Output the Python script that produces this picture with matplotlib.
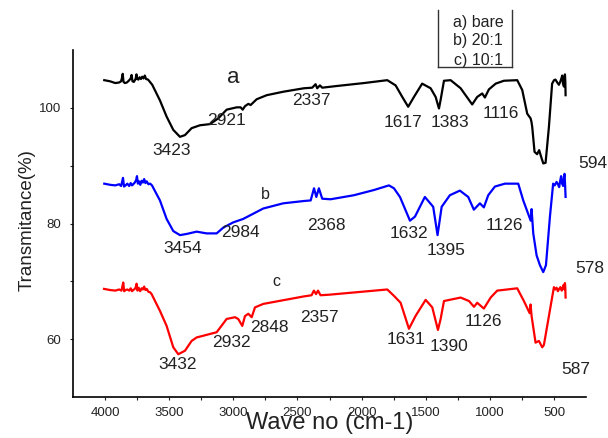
import numpy as np
import matplotlib
matplotlib.use("Agg")
import matplotlib.pyplot as plt
from matplotlib.lines import Line2D

plt.rcParams['font.family'] = ['Liberation Sans', 'DejaVu Sans']

# spectrum a) bare (wavenumber, transmittance)
wn_a = [4006, 3960, 3920, 3890, 3875, 3868, 3862, 3856, 3845, 3830,
        3815, 3800, 3793, 3786, 3775, 3762, 3755, 3748, 3740, 3730,
        3720, 3710, 3700, 3690, 3680, 3665, 3650, 3632,
        3572, 3520, 3468, 3416, 3377, 3325, 3260, 3182, 3117, 3052,
        2974, 2943, 2927, 2909, 2883, 2865, 2818, 2740, 2611, 2450,
        2385, 2359, 2346, 2325, 2307, 2190, 1982, 1800, 1735, 1683,
        1637, 1592, 1528, 1462, 1423, 1397, 1384, 1358, 1306, 1228,
        1138, 1099, 1060, 1039, 1008, 955, 891, 787, 748, 709,
        683, 676, 670, 652, 632, 616, 600, 584, 566, 540, 515,
        500, 489, 475, 462, 450, 440, 436, 430, 423, 418, 415, 412, 410]
tr_a = [104.8, 104.6, 104.3, 104.4, 104.6, 105.2, 105.9, 104.5, 104.3, 104.4,
        104.7, 105.1, 105.7, 104.6, 104.5, 105.0, 105.8, 105.0, 104.9, 105.3,
        105.0, 105.4, 105.1, 105.6, 105.0, 104.9, 104.5, 104.0,
        101.3, 98.5, 96.2, 95.0, 95.3, 96.5, 97.0, 97.2, 98.2, 99.7,
        100.1, 100.1, 99.7, 100.3, 100.7, 100.5, 101.5, 102.2, 102.8, 103.4,
        103.5, 104.1, 103.4, 103.9, 103.5, 103.8, 104.3, 104.8, 103.9, 101.9,
        100.2, 101.9, 104.2, 103.4, 101.9, 99.9, 101.4, 104.7, 104.8, 103.4,
        100.6, 101.9, 102.5, 101.8, 103.2, 104.2, 104.7, 104.8, 103.1, 99.0,
        98.2, 97.6, 96.7, 92.4, 92.0, 92.7, 91.5, 90.4, 90.5, 96.7, 104.2,
        104.8, 104.9, 104.4, 104.0, 104.6, 105.3, 105.6, 104.2, 103.7, 105.0, 105.8, 104.5, 102.2]

# spectrum b) 20:1
wn_b = [4006, 3960, 3920, 3890, 3875, 3866, 3860, 3852, 3840, 3826,
        3812, 3800, 3790, 3780, 3768, 3758, 3751, 3744, 3735, 3725,
        3715, 3705, 3695, 3685, 3675, 3662, 3648, 3634,
        3572, 3520, 3468, 3416, 3364, 3286, 3208, 3130, 3078, 3001,
        2923, 2767, 2611, 2450, 2397, 2371, 2353, 2333, 2307, 2242,
        2060, 1904, 1787, 1748, 1701, 1623, 1584, 1507, 1442, 1408,
        1376, 1312, 1234, 1169, 1125, 1078, 1047, 1013, 961, 883,
        779, 740, 682, 675, 662, 636, 610, 584, 563, 532,
        507, 495, 480, 470, 460, 452, 445, 437, 429, 423, 418, 414, 410]
tr_b = [86.9, 86.7, 86.6, 86.8, 86.5, 87.3, 87.9, 86.4, 86.6, 86.9,
        86.5, 87.0, 86.6, 86.8, 87.1, 87.5, 88.2, 86.9, 87.3, 86.7,
        87.4, 87.1, 87.7, 87.0, 87.3, 86.8, 86.9, 86.6,
        84.0, 80.8, 78.7, 78.0, 78.2, 78.6, 78.3, 78.3, 79.3, 80.2,
        80.8, 82.6, 83.5, 83.9, 84.0, 86.1, 84.6, 86.1, 84.3, 84.2,
        84.9, 85.8, 86.6, 86.1, 84.6, 80.5, 81.2, 84.6, 82.9, 78.0,
        82.9, 84.9, 85.7, 84.6, 82.4, 83.5, 82.8, 84.9, 86.4, 86.9,
        86.9, 84.0, 80.5, 82.5, 78.3, 74.5, 72.8, 71.6, 72.8, 81.2,
        86.9, 86.6, 87.2, 86.8, 86.3, 87.4, 88.2, 86.9, 86.5, 88.0, 88.6, 86.8, 84.6]

# spectrum c) 10:1
wn_c = [4008, 3960, 3920, 3890, 3872, 3864, 3858, 3851, 3840, 3826,
        3812, 3800, 3790, 3780, 3768, 3760, 3754, 3747, 3738, 3726,
        3715, 3705, 3695, 3685, 3675, 3662, 3648, 3637,
        3572, 3520, 3468, 3429, 3377, 3325, 3286, 3130, 3052, 2987,
        2962, 2930, 2909, 2883, 2857, 2831, 2767, 2450, 2390, 2372,
        2355, 2340, 2320, 2250, 1800, 1748, 1696, 1631, 1580, 1501,
        1449, 1405, 1384, 1358, 1228, 1163, 1124, 1099, 1047, 994,
        943, 787, 735, 690, 683, 675, 644, 618, 592, 579,
        540, 501, 490, 480, 470, 460, 450, 440, 432, 425, 419, 415, 412, 410]
tr_c = [68.7, 68.5, 68.4, 68.6, 68.4, 69.2, 69.8, 68.3, 68.5, 68.6,
        68.4, 68.8, 68.3, 68.5, 68.7, 69.0, 69.6, 68.4, 68.9, 68.3,
        68.8, 68.6, 69.1, 68.5, 68.7, 68.2, 68.1, 67.8,
        64.9, 62.3, 58.6, 57.4, 58.0, 59.7, 60.3, 61.2, 63.5, 63.8,
        63.5, 62.3, 64.0, 64.4, 63.8, 65.5, 66.1, 67.4, 67.6, 68.4,
        67.8, 68.4, 67.6, 67.7, 68.6, 67.5, 66.3, 61.8, 64.0, 66.8,
        65.5, 61.6, 63.5, 66.6, 67.2, 66.6, 65.6, 66.3, 65.3, 67.2,
        68.4, 68.8, 66.6, 64.5, 66.0, 64.0, 59.4, 59.7, 58.6, 59.0,
        64.0, 69.0, 68.6, 68.9, 68.3, 68.7, 69.0, 68.4, 68.8, 69.4, 68.6, 69.7, 68.8, 67.2]

# peak annotations: (text, wavenumber, transmittance)
labels_a = [("3423", 3478, 92.7), ("2921", 3050, 97.9), ("2337", 2395, 101.2),
            ("1617", 1678, 97.4), ("1383", 1312, 97.4), ("1116", 914, 99.1),
            ("594", 197, 90.45)]
labels_b = [("3454", 3393, 75.7), ("2984", 2941, 78.5), ("2368", 2278, 79.6),
            ("1632", 1631, 78.2), ("1395", 1343, 75.4), ("1126", 891, 79.6),
            ("578", 220, 72.3)]
labels_c = [("3432", 3432, 55.7), ("2932", 3011, 59.5), ("2848", 2722, 62.1),
            ("2357", 2325, 63.8), ("1631", 1655, 60.0), ("1390", 1319, 58.8),
            ("1126", 1047, 63.1), ("587", 330, 54.8)]
# curve letters
letters = [("a", 3003, 105.3, 16), ("b", 2754, 85.1, 11.5), ("c", 2668, 69.9, 11.5)]
legend_lines = ["a) bare", "b) 20:1", "c) 10:1"]

fig = plt.figure(figsize=(6.08, 4.38), dpi=100)
ax = fig.add_axes([0.120, 0.0936, 0.844, 0.792])

ax.plot(wn_a, tr_a, color='black', linewidth=1.6)
ax.plot(wn_b, tr_b, color='#0000ff', linewidth=1.6)
ax.plot(wn_c, tr_c, color='#ff0000', linewidth=1.6)

for group in (labels_a, labels_b, labels_c):
    for txt, x, y in group:
        ax.text(x, y, txt, fontsize=12.5, ha='center', va='center',
                color='#222222', clip_on=False)
for txt, x, y, fs in letters:
    ax.text(x, y, txt, fontsize=fs, ha='center', va='center', color='#222222')

ax.set_xlim(4250, 250)
ax.set_ylim(50, 110)
ax.set_xticks([4000, 3500, 3000, 2500, 2000, 1500, 1000, 500])
ax.set_xticks(np.arange(3750, 250, -500), minor=True)
ax.set_yticks([60, 80, 100])
ax.set_yticks([70, 90], minor=True)
ax.tick_params(which='both', direction='out', length=2.5, width=0.8,
               labelsize=9.5, colors='#222222', pad=6)
ax.tick_params(axis='x', pad=4.5)
for s in ('top', 'right'):
    ax.spines[s].set_visible(False)
for s in ('left', 'bottom'):
    ax.spines[s].set_linewidth(1.2)

ax.set_xlabel("Wave no (cm-1)", fontsize=17, color='#222222', va='top')
ax.xaxis.set_label_coords(0.5, -0.043)
ax.set_ylabel("Transmitance(%)", fontsize=13.5, color='#222222')
ax.yaxis.set_label_coords(-0.072, 0.51)

# legend box (open at the top)
lx0, lx1 = 438 / 608, 512 / 608
ly_top, ly_bot = 1 - 10 / 438, 1 - 67 / 438
for xs, ys in (([lx0, lx0], [ly_top, ly_bot]), ([lx1, lx1], [ly_top, ly_bot]),
               ([lx0, lx1], [ly_bot, ly_bot])):
    fig.add_artist(Line2D(xs, ys, color='#333333', linewidth=1.0,
                          transform=fig.transFigure))
for i, t in enumerate(legend_lines):
    fig.text(478 / 608, 1 - (22 + 19 * i) / 438, t, fontsize=11.5,
             ha='center', va='center', color='#222222')

fig.savefig("out.png", dpi=100)
